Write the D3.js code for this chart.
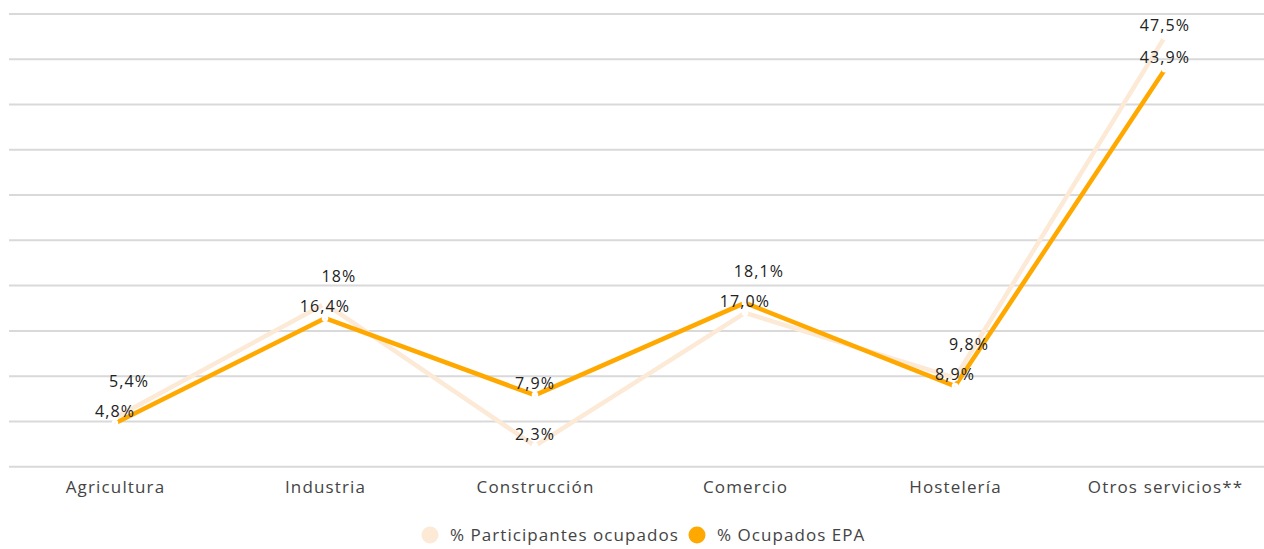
<!DOCTYPE html>
<html>
<head>
<meta charset="utf-8">
<script src="https://cdn.jsdelivr.net/npm/d3@7"></script>
<style>
  body { margin: 0; background: #fff; }
  text { font-family: "Open Sans", sans-serif; }
</style>
</head>
<body>
<div id="chart"></div>
<script>
var categories = ["Agricultura", "Industria", "Construcción", "Comercio", "Hostelería", "Otros servicios**"];
var participantes = [5.4, 18, 2.3, 17.0, 9.8, 47.5];
var ocupadosEPA = [4.8, 16.4, 7.9, 18.1, 8.9, 43.9];
var participantesLabels = ["5,4%", "18%", "2,3%", "17,0%", "9,8%", "47,5%"];
var epaLabels = ["4,8%", "16,4%", "7,9%", "18,1%", "8,9%", "43,9%"];
var seriesNames = ["% Participantes ocupados", "% Ocupados EPA"];
var yTicks = [0, 5, 10, 15, 20, 25, 30, 35, 40, 45, 50];

var width = 1264;
var height = 549;
var colors = ["#fce9d6", "#ffa800"];

var svg = d3.select("#chart")
  .append("svg")
    .attr("width", width)
    .attr("height", height);

var x = d3.scalePoint()
  .domain(categories)
  .range([10, 1270])
  .padding(0.5);

var y = d3.scaleLinear()
  .domain([0, 50])
  .range([466.7, 14]);

// gridlines
svg.append("g")
  .selectAll("line")
  .data(yTicks).enter()
  .append("line")
    .attr("x1", 9)
    .attr("x2", width)
    .attr("y1", function(d) { return y(d); })
    .attr("y2", function(d) { return y(d); })
    .style("stroke", "#d9d9d9")
    .style("stroke-width", 2);

// category labels
var xAxis = svg.append("g")
  .attr("transform", "translate(0," + 466.7 + ")")
  .call(d3.axisBottom(x).tickSize(0).tickPadding(14));
xAxis.select(".domain").remove();
xAxis.selectAll("text")
  .style("font-family", "'Open Sans', sans-serif")
  .style("font-size", "17px")
  .style("letter-spacing", "1.15px")
  .style("fill", "#444");

var series = [
  { name: seriesNames[0], values: participantes, labels: participantesLabels, color: colors[0] },
  { name: seriesNames[1], values: ocupadosEPA, labels: epaLabels, color: colors[1] }
];

var line = d3.line()
  .x(function(d, i) { return x(categories[i]); })
  .y(function(d) { return y(d); });

series.forEach(function(s) {
  svg.append("path")
    .datum(s.values)
    .attr("d", line)
    .style("fill", "none")
    .style("stroke", s.color)
    .style("stroke-width", 4.5)
    .style("stroke-linejoin", "round");
});

series.forEach(function(s) {
  svg.append("g")
    .selectAll("circle")
    .data(s.values).enter()
    .append("circle")
      .attr("cx", function(d, i) { return x(categories[i]); })
      .attr("cy", function(d) { return y(d); })
      .attr("r", 1.8)
      .style("fill", s.color)
      .style("stroke", "#fff")
      .style("stroke-width", 3);
});

// value labels, the higher one is pushed up and right when they collide
var labelGroup = svg.append("g");
categories.forEach(function(c, i) {
  var a = { y: y(participantes[i]) - 6, text: participantesLabels[i], dx: 0 };
  var b = { y: y(ocupadosEPA[i]) - 6, text: epaLabels[i], dx: 0 };
  var upper = a.y < b.y ? a : b;
  var lower = a.y < b.y ? b : a;
  if (lower.y - upper.y < 30) {
    upper.y = lower.y - 30;
    upper.dx = 14;
  }
  [a, b].forEach(function(l) {
    labelGroup.append("text")
      .attr("x", x(c) + l.dx)
      .attr("y", l.y)
      .attr("text-anchor", "middle")
      .style("font-size", "16px")
      .style("letter-spacing", "1.1px")
      .style("fill", "#222")
      .text(l.text);
  });
});

// legend
var legend = svg.append("g").attr("transform", "translate(0,535)");
var legendX = [430, 697];
series.forEach(function(s, i) {
  legend.append("circle")
    .attr("cx", legendX[i])
    .attr("cy", 0)
    .attr("r", 8.5)
    .style("fill", s.color);
  legend.append("text")
    .attr("x", legendX[i] + 20)
    .attr("y", 6)
    .style("font-size", "17px")
    .style("letter-spacing", "1.05px")
    .style("fill", "#444")
    .text(s.name);
});
</script>
</body>
</html>
